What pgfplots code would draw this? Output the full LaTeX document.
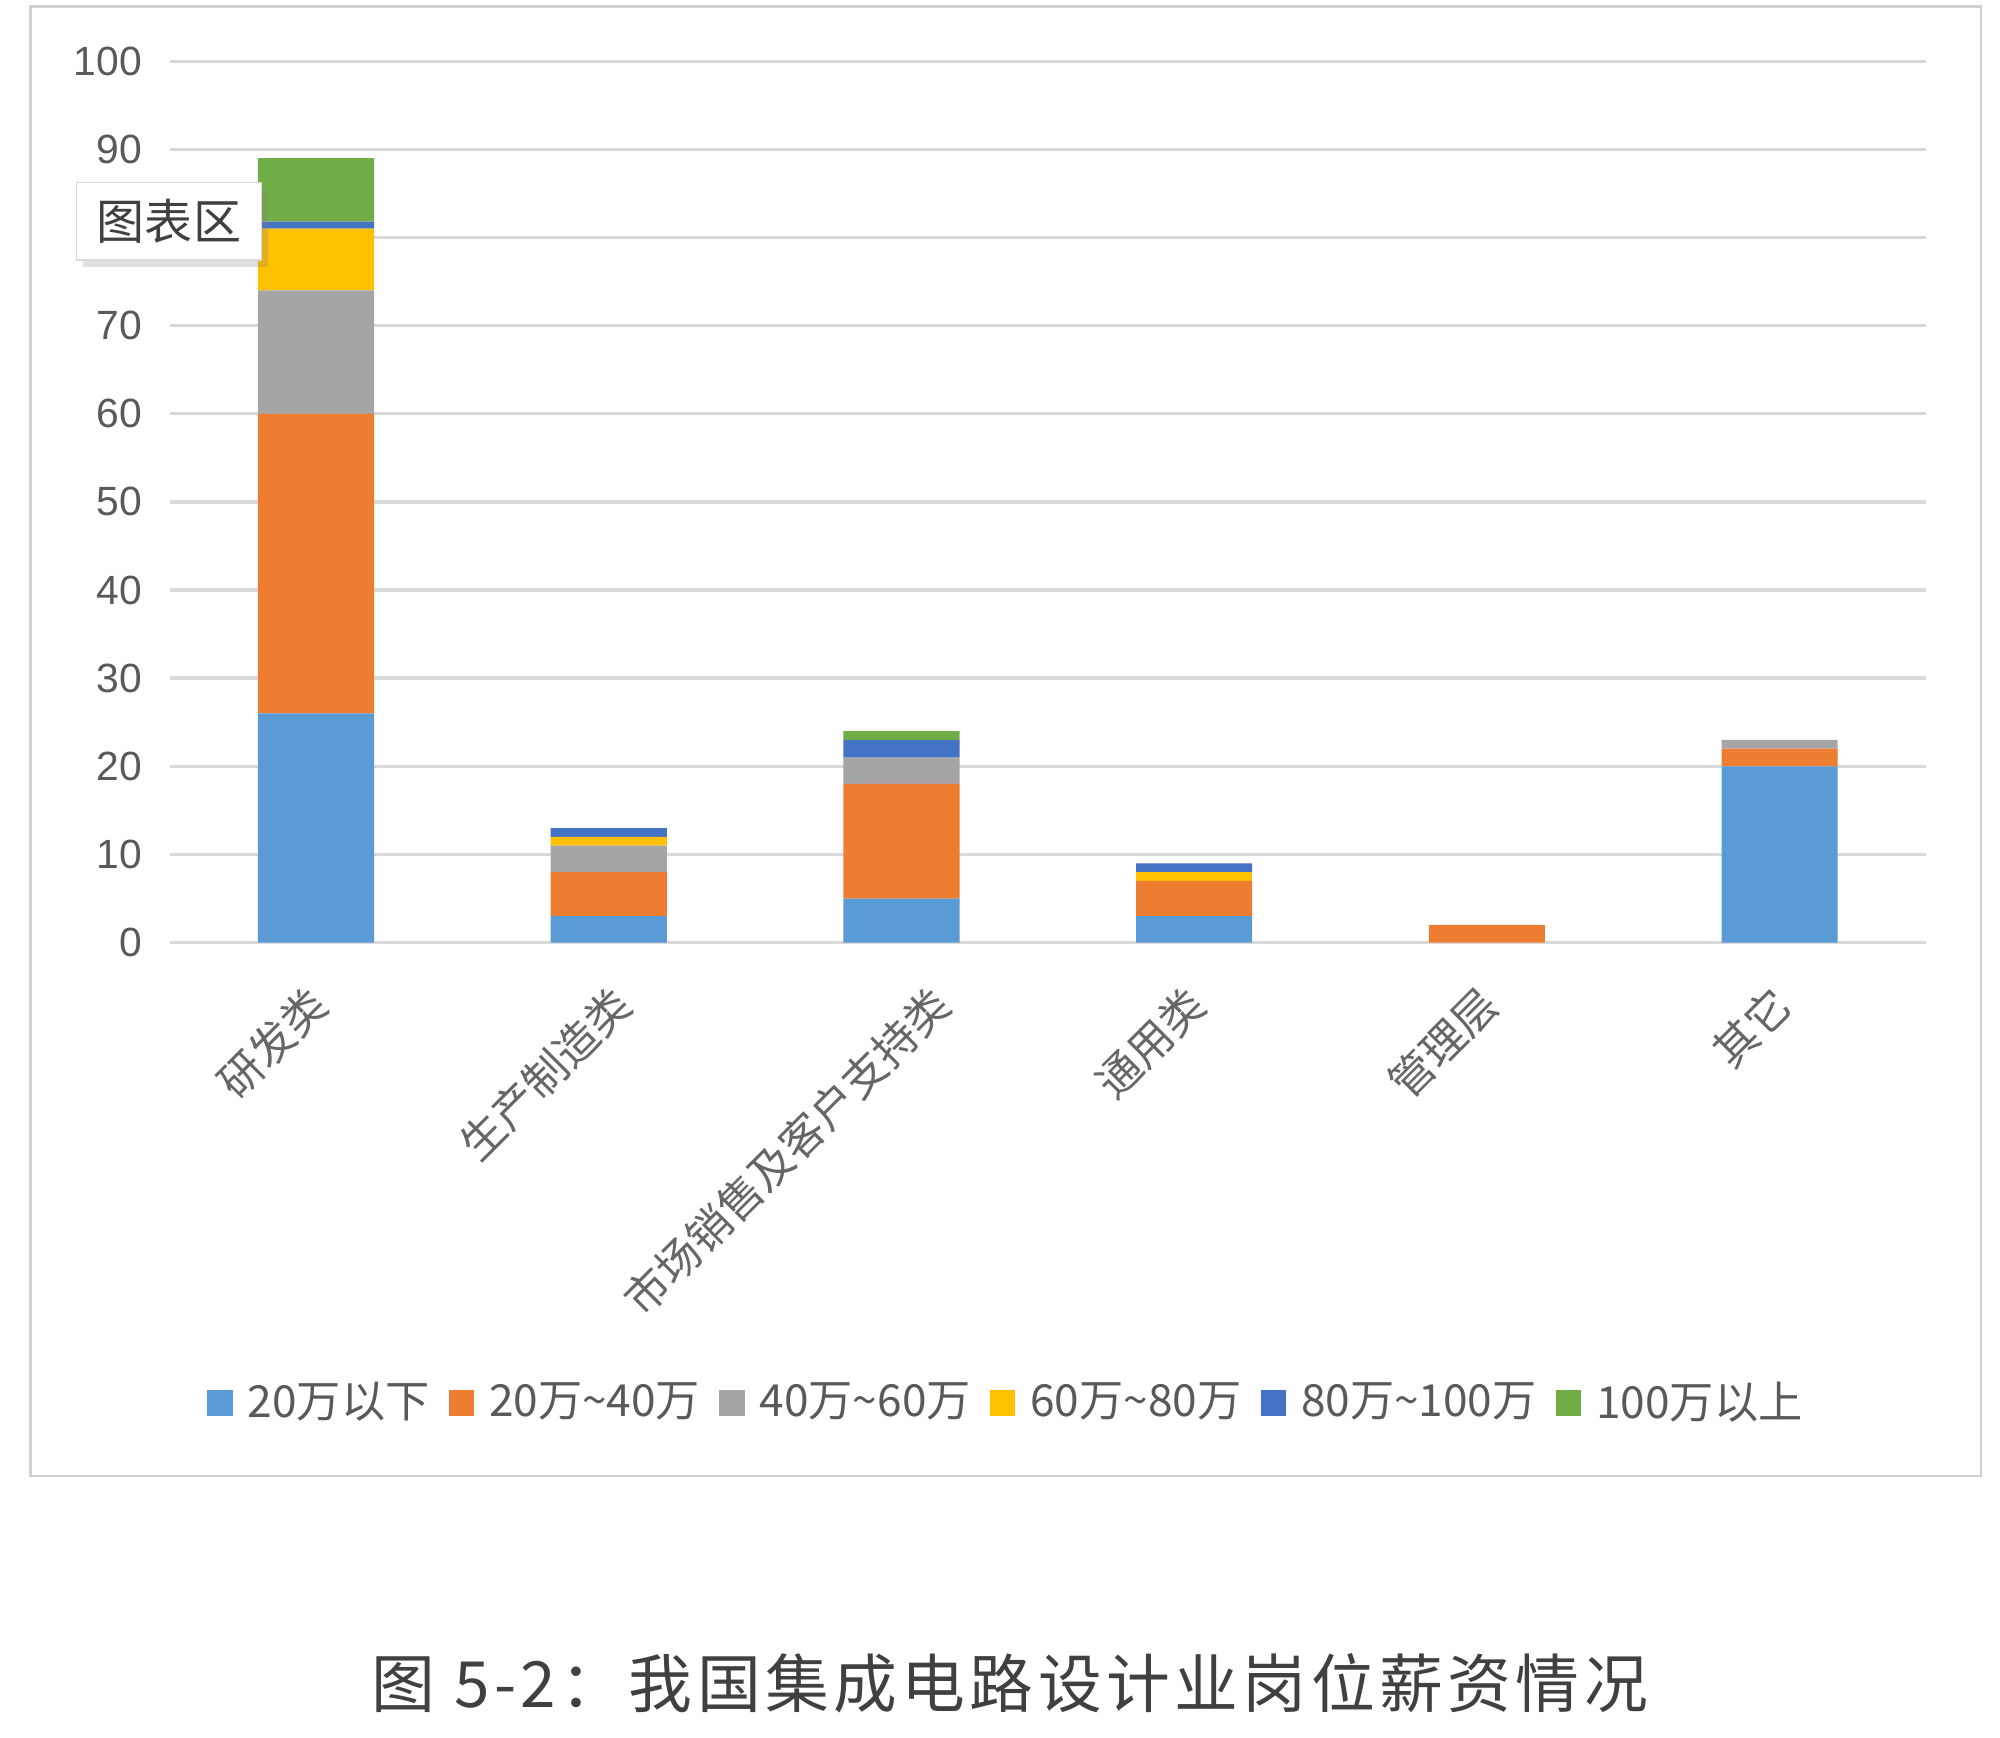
\documentclass[border=0pt]{standalone}
\usepackage{pgfplots}
\pgfplotsset{compat=1.18}
\usepackage{fontspec}
\setmainfont{Liberation Sans}
\newfontfamily\cjk{Noto Sans CJK SC}
\newfontfamily\cjkcap[LetterSpace=7]{Noto Sans CJK SC}
\usetikzlibrary{shadows}
\definecolor{c1}{HTML}{5B9BD5}
\definecolor{c2}{HTML}{ED7D31}
\definecolor{c3}{HTML}{A5A5A5}
\definecolor{c4}{HTML}{FFC000}
\definecolor{c5}{HTML}{4472C4}
\definecolor{c6}{HTML}{70AD47}
\definecolor{labelgray}{HTML}{595959}
\definecolor{catgray}{HTML}{666666}
\definecolor{gridgray}{HTML}{D9D9D9}
\definecolor{framegray}{HTML}{D0D0D0}
\newcommand\lab[2]{\raisebox{-#2}[\height][\depth]{#1}\hspace*{-#2}}
\begin{document}
\begin{tikzpicture}
\useasboundingbox (0,0) rectangle (470.4pt,-408.6pt);
\fill[white] (0,0) rectangle (470.4pt,-408.6pt);
\draw[framegray, line width=0.6pt] (7.2pt,-1.5pt) rectangle (465.9pt,-347.1pt);
\begin{axis}[
  at={(39.9pt,-221.7pt)}, anchor=south west,
  scale only axis, width=413.1pt, height=207.3pt,
  ybar stacked, bar width=27.3pt,
  xmin=-0.5, xmax=5.5, ymin=0, ymax=100,
  enlargelimits=false,
  ytick={0,10,...,100},
  xtick={0,1,2,3,4,5},
  xticklabels={{\lab{研发类}{0pt}},{\lab{生产制造类}{1.9pt}},{\lab{市场销售及客户支持类}{6.15pt}},{\lab{通用类}{0pt}},{\lab{管理层}{0pt}},{\lab{其它}{0pt}}},
  axis line style={draw=none},
  major tick length=0pt,
  ymajorgrids, grid style={gridgray, line width=0.8pt},
  /pgf/number format/assume math mode=true,
  yticklabel style={font=\fontsize{9.6}{11}\selectfont, text=labelgray, xshift=-3pt},
  xticklabel style={font=\cjk\fontsize{10.3}{12}\selectfont, text=catgray, rotate=45, anchor=north east, yshift=-1.1pt, xshift=-5.0pt},
  legend columns=6,
  legend style={at={(0.478,-0.5224)}, anchor=center, draw=none, fill=none,
    font=\cjk\fontsize{10.4}{12}\selectfont, text=labelgray,
    /tikz/every even column/.append style={column sep=2.5pt},
    /tikz/every odd column/.append style={column sep=1.5pt}},
  legend image code/.code={\fill[#1] (0pt,-3pt) rectangle (6pt,3pt);},
]
\addplot[fill=c1, draw=none] coordinates {(0,26) (1,3) (2,5) (3,3) (4,0) (5,20)};
\addplot[fill=c2, draw=none] coordinates {(0,34) (1,5) (2,13) (3,4) (4,2) (5,2)};
\addplot[fill=c3, draw=none] coordinates {(0,14) (1,3) (2,3) (3,0) (4,0) (5,1)};
\addplot[fill=c4, draw=none] coordinates {(0,7) (1,1) (2,0) (3,1) (4,0) (5,0)};
\addplot[fill=c5, draw=none] coordinates {(0,0.8) (1,1) (2,2) (3,1) (4,0) (5,0)};
\addplot[fill=c6, draw=none] coordinates {(0,7.2) (1,0) (2,1) (3,0) (4,0) (5,0)};
\legend{20万以下,20万\textasciitilde 40万,40万\textasciitilde 60万,60万\textasciitilde 80万,80万\textasciitilde 100万,100万以上}
\end{axis}
\node[draw=gray!30, fill=white, drop shadow={opacity=0.25, shadow xshift=1.5pt, shadow yshift=-1.5pt}, minimum width=43.5pt, minimum height=18.3pt, inner sep=1pt, font=\cjk\fontsize{11.3}{12}\selectfont, text=black!75] at (39.75pt,-52.05pt) {图表区};
\node[font=\cjkcap\fontsize{15}{18}\selectfont, text=black!75] at (237.5pt,-396pt) {图 5-2：我国集成电路设计业岗位薪资情况};
\end{tikzpicture}
\end{document}
